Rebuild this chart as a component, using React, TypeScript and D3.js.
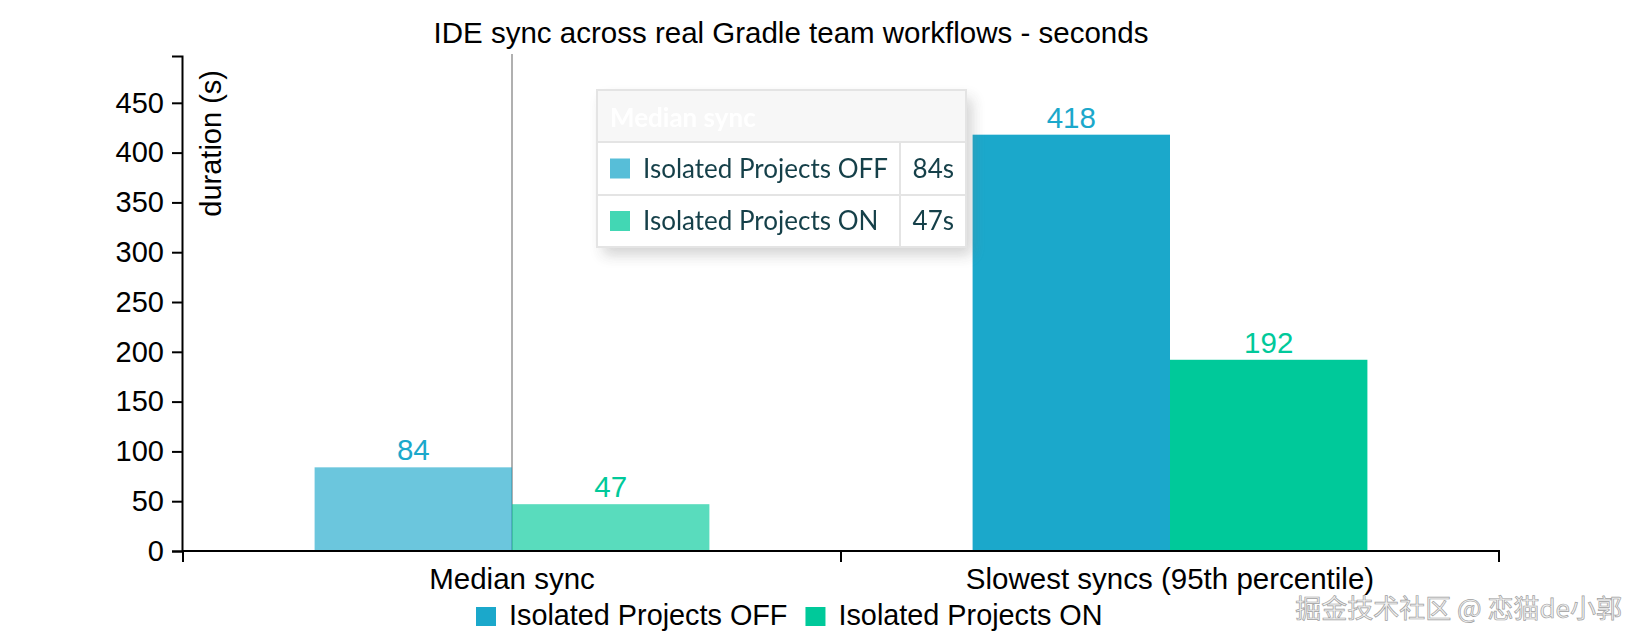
import * as d3 from "d3";
import { useEffect, useRef } from "react";

// Chart data
const categories = ["Median sync", "Slowest syncs (95th percentile)"];
const seriesNames = ["Isolated Projects OFF", "Isolated Projects ON"];
const offValues = [84, 418];
const onValues = [47, 192];
const yTickValues = [0, 50, 100, 150, 200, 250, 300, 350, 400, 450];
const seriesColors = ["#1ba8cb", "#00c99a"];

const title = "IDE sync across real Gradle team workflows - seconds";
const yLabel = "duration (s)";
const watermark = "掘金技术社区 @ 恋猫de小郭";

// index of the category the mouse is "hovering" in the screenshot
const focusIndex = 0;

const App = () => {
  const ref = useRef<SVGSVGElement>(null);

  useEffect(() => {
    if (!ref.current) return;
    ref.current.innerHTML = "";

    const width = 1642;
    const height = 642;
    const font = "'Liberation Sans', Arial, Helvetica, sans-serif";

    const svg = d3.select(ref.current)
      .attr("width", width)
      .attr("height", height)
      .attr("viewBox", [0, 0, width, height])
      .style("font-family", font);

    // scales
    const x = d3.scaleBand().domain(categories).range([183, 1499]);
    const bandInner = x.bandwidth() * 0.6;
    const xs = d3.scaleBand().domain(seriesNames).range([0, bandInner]);
    const y = d3.scaleLinear().domain([0, 497]).range([551, 56]);

    const series = seriesNames.map((name, i) => ({
      name,
      color: seriesColors[i],
      values: i === 0 ? offValues : onValues,
    }));

    // title
    svg.append("text")
      .attr("x", 791)
      .attr("y", 43)
      .attr("text-anchor", "middle")
      .attr("font-size", 29.5)
      .attr("fill", "#000")
      .text(title);

    // focus grid line
    const fx = x(categories[focusIndex])! + x.bandwidth() / 2;
    svg.append("line")
      .attr("x1", fx).attr("x2", fx)
      .attr("y1", 54).attr("y2", y(0))
      .attr("stroke", "#b0b0b0")
      .attr("stroke-width", 2);

    // bars
    const bars = svg.append("g");
    series.forEach((s) => {
      bars.selectAll(null)
        .data(s.values)
        .join("rect")
        .attr("x", (_, i) => x(categories[i])! + (x.bandwidth() - bandInner) / 2 + xs(s.name)!)
        .attr("y", (d) => y(d))
        .attr("width", xs.bandwidth())
        .attr("height", (d) => y(0) - y(d))
        .attr("fill", s.color)
        .attr("fill-opacity", (_, i) => (i === focusIndex ? 0.65 : 1));

      bars.selectAll(null)
        .data(s.values)
        .join("text")
        .attr("x", (_, i) => x(categories[i])! + (x.bandwidth() - bandInner) / 2 + xs(s.name)! + xs.bandwidth() / 2)
        .attr("y", (d) => y(d) - 7)
        .attr("text-anchor", "middle")
        .attr("font-size", 29.5)
        .attr("fill", s.color)
        .text((d) => d);
    });

    // y axis
    const yAxis = svg.append("g")
      .attr("transform", "translate(182,0)")
      .call(d3.axisLeft(y).tickValues(yTickValues).tickSize(10).tickPadding(8).tickSizeOuter(10));
    yAxis.selectAll("path, line").attr("stroke", "#000").attr("stroke-width", 2);
    yAxis.selectAll("text").attr("font-size", 29).attr("font-family", font).attr("fill", "#000");

    // y label, rotated, inner top
    svg.append("text")
      .attr("transform", "rotate(-90)")
      .attr("x", -70)
      .attr("y", 221)
      .attr("text-anchor", "end")
      .attr("font-size", 29)
      .attr("fill", "#000")
      .text(yLabel);

    // x axis: ticks on band edges, labels in band centres
    const xAxis = svg.append("g").attr("transform", `translate(0,${y(0)})`);
    const [r0, r1] = x.range();
    xAxis.append("path")
      .attr("d", `M${r0},11V0H${r1}V11`)
      .attr("fill", "none")
      .attr("stroke", "#000")
      .attr("stroke-width", 2);
    xAxis.selectAll("line.tick")
      .data(categories.slice(1))
      .join("line")
      .attr("x1", (d) => x(d)!).attr("x2", (d) => x(d)!)
      .attr("y1", 0).attr("y2", 11)
      .attr("stroke", "#000")
      .attr("stroke-width", 2);
    xAxis.selectAll("text")
      .data(categories)
      .join("text")
      .attr("x", (d) => x(d)! + x.bandwidth() / 2)
      .attr("y", 38)
      .attr("text-anchor", "middle")
      .attr("font-size", 29.5)
      .attr("fill", "#000")
      .text((d) => d);

    // legend
    const legend = svg.append("g");
    let lx = 476;
    series.forEach((s) => {
      legend.append("rect")
        .attr("x", lx).attr("y", 607)
        .attr("width", 20).attr("height", 19)
        .attr("fill", s.color);
      const t = legend.append("text")
        .attr("x", lx + 33)
        .attr("y", 625)
        .attr("font-size", 28.8)
        .attr("fill", "#000")
        .text(s.name);
      const len = (t.node() as SVGTextElement).getComputedTextLength();
      lx += 33 + len + 18;
    });

    // tooltip
    const tipFont = "Lato, 'Open Sans', sans-serif";
    const defs = svg.append("defs");
    const filter = defs.append("filter").attr("id", "tipShadow")
      .attr("x", "-10%").attr("y", "-10%").attr("width", "130%").attr("height", "140%");
    filter.append("feDropShadow")
      .attr("dx", 6).attr("dy", 8).attr("stdDeviation", 7)
      .attr("flood-color", "#777").attr("flood-opacity", 0.35);

    const tip = svg.append("g").attr("opacity", 0.92);
    const tx0 = 597, tx1 = 966, tcol = 900;
    const rowTops = [90, 142, 195, 247];
    tip.append("rect")
      .attr("x", tx0).attr("y", rowTops[0])
      .attr("width", tx1 - tx0).attr("height", rowTops[3] - rowTops[0])
      .attr("fill", "#fff")
      .attr("filter", "url(#tipShadow)");
    tip.append("rect")
      .attr("x", tx0).attr("y", rowTops[0])
      .attr("width", tx1 - tx0).attr("height", rowTops[1] - rowTops[0])
      .attr("fill", "#f7f7f7");
    tip.append("text")
      .attr("x", 610).attr("y", 127)
      .attr("font-family", tipFont)
      .attr("font-size", 26)
      .attr("font-weight", 700)
      .attr("fill", "#fff")
      .text(categories[focusIndex]);

    const grid = tip.append("g").attr("stroke", "#e2e2e2").attr("stroke-width", 2).attr("fill", "none");
    grid.append("rect")
      .attr("x", tx0).attr("y", rowTops[0])
      .attr("width", tx1 - tx0).attr("height", rowTops[3] - rowTops[0]);
    rowTops.slice(1, 3).forEach((ry) => {
      grid.append("line").attr("x1", tx0).attr("x2", tx1).attr("y1", ry).attr("y2", ry);
    });
    grid.append("line").attr("x1", tcol).attr("x2", tcol).attr("y1", rowTops[1]).attr("y2", rowTops[3]);

    series.forEach((s, i) => {
      const top = rowTops[i + 1];
      const mid = (top + rowTops[i + 2]) / 2;
      tip.append("rect")
        .attr("x", 610).attr("y", mid - 10)
        .attr("width", 20).attr("height", 20)
        .attr("fill", s.color)
        .attr("fill-opacity", 0.8);
      tip.append("text")
        .attr("x", 643).attr("y", mid + 9)
        .attr("font-family", tipFont)
        .attr("font-size", 26)
        .attr("fill", "#02303a")
        .text(s.name);
      tip.append("text")
        .attr("x", 954).attr("y", mid + 9)
        .attr("text-anchor", "end")
        .attr("font-family", tipFont)
        .attr("font-size", 26)
        .attr("fill", "#02303a")
        .text(`${s.values[focusIndex]}s`);
    });

    // watermark
    svg.append("text")
      .attr("x", 1622).attr("y", 618)
      .attr("text-anchor", "end")
      .attr("font-family", "'Noto Sans CJK SC', sans-serif")
      .attr("font-size", 26)
      .attr("fill", "#f2f2f2")
      .attr("stroke", "#a0a0a0")
      .attr("stroke-width", 0.7)
      .text(watermark);
  }, []);

  return (
    <svg
      ref={ref}
      style={{ position: "absolute", left: 0, top: 0, display: "block", background: "#fff" }}
    />
  );
};

export default App;
